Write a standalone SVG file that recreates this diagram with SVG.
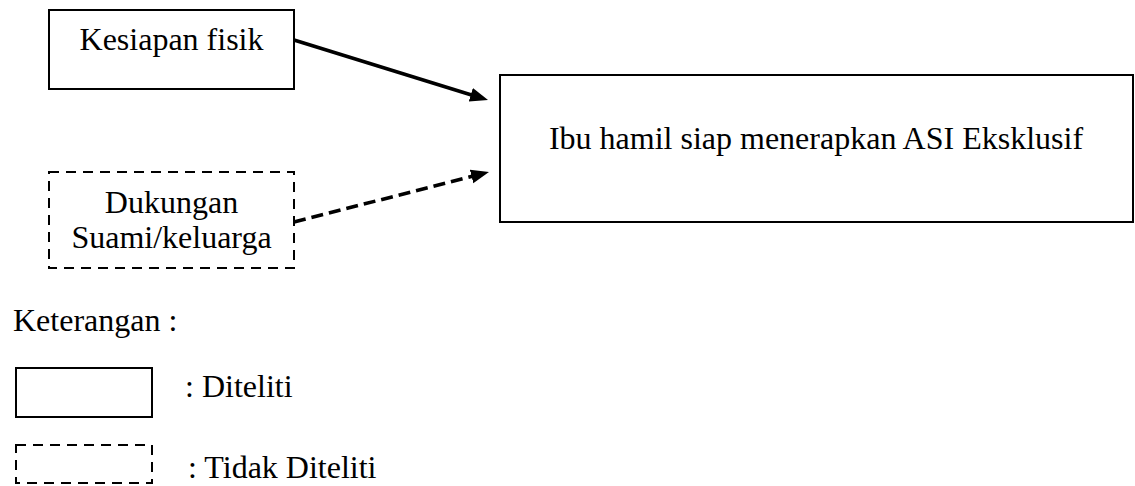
<svg xmlns="http://www.w3.org/2000/svg" width="1135" height="486" viewBox="0 0 1135 486">
<style>
  text { font-family: "Liberation Serif", "Times New Roman", serif; font-size: 32px; fill: #000; }
  .c { text-anchor: middle; }
  .solid { fill: #fff; stroke: #000; stroke-width: 2; }
  .dash { fill: #fff; stroke: #000; stroke-width: 2; stroke-dasharray: 10 7; }
  .conn { fill: none; stroke: #000; stroke-width: 3.6; }
  .conn-dash { fill: none; stroke: #000; stroke-width: 3.6; stroke-dasharray: 12 6; }
</style>
<defs>
  <marker id="ah" markerUnits="userSpaceOnUse" markerWidth="20" markerHeight="16" refX="5" refY="7" orient="auto">
    <path d="M0,0 L18,7 L0,14 z" fill="#000"/>
  </marker>
</defs>
<rect width="1135" height="486" fill="#fff"/>
<g id="node-kesiapan">
  <rect class="solid" x="49" y="10" width="245" height="79"/>
  <text class="c" x="171.5" y="50">Kesiapan fisik</text>
</g>
<g id="node-dukungan">
  <rect class="dash" x="49" y="172" width="245" height="96"/>
  <text class="c" x="171.5" y="213">Dukungan</text>
  <text class="c" x="171.5" y="248">Suami/keluarga</text>
</g>
<g id="node-ibu">
  <rect class="solid" x="500" y="75" width="633" height="147"/>
  <text class="c" x="816" y="149">Ibu hamil siap menerapkan ASI Eksklusif</text>
</g>
<g id="connectors">
  <line class="conn" x1="294" y1="40" x2="475.6" y2="96.2" marker-end="url(#ah)"/>
  <line class="conn-dash" x1="294" y1="222" x2="476.4" y2="175.2" marker-end="url(#ah)"/>
</g>
<g id="legend">
  <text x="13" y="331">Keterangan :</text>
  <rect class="solid" x="16" y="368" width="136" height="49"/>
  <text x="185" y="397">: Diteliti</text>
  <rect class="dash" x="16" y="445" width="136" height="38"/>
  <text x="188" y="478">: Tidak Diteliti</text>
</g>
</svg>
